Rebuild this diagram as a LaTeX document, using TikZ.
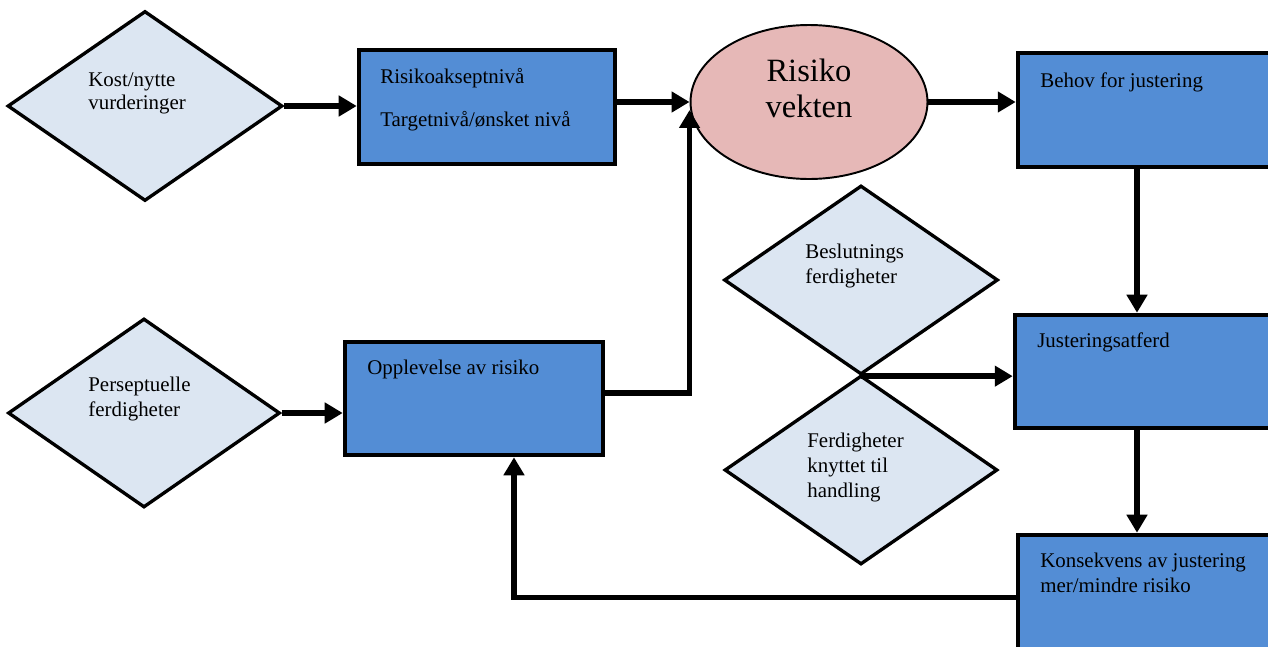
\documentclass[tikz,border=0pt]{standalone}
\usepackage{fontspec}
\setmainfont{Liberation Serif}
\usetikzlibrary{shapes.geometric,arrows.meta}

\definecolor{boksblaa}{RGB}{83,141,213}
\definecolor{ruterlys}{RGB}{220,230,242}
\definecolor{vektrosa}{RGB}{230,184,183}

\begin{document}
\begin{tikzpicture}[x=0.02cm, y=-0.02cm,
    boks/.style={draw, line width=2.6pt, fill=boksblaa, rectangle, inner sep=0pt},
    ruter/.style={draw, line width=1.9pt, fill=ruterlys, diamond, inner sep=0pt},
    tekst/.style={anchor=north west, inner sep=0pt, align=left,
        font=\fontsize{11.9}{14.2}\selectfont},
    pil/.style={line width=3.2pt, -{Triangle[length=0.36cm,width=0.4cm]}}]
    \clip (0,0) rectangle (1268,646);

    % diamonds
    \node[ruter, minimum width=5.5cm, minimum height=3.8cm] (kost) at (145,106) {};
    \node[ruter, minimum width=5.44cm, minimum height=3.78cm] (persep) at (144,413) {};
    \node[ruter, minimum width=5.48cm, minimum height=3.78cm] (beslut) at (861,280) {};
    \node[ruter, minimum width=5.46cm, minimum height=3.78cm] (ferdig) at (861,470) {};

    % boxes
    \node[boks, minimum width=5.12cm, minimum height=2.28cm] (aksept) at (487,107) {};
    \node[boks, minimum width=5.16cm, minimum height=2.26cm] (opplev) at (474,398.5) {};
    \node[boks, minimum width=5.44cm, minimum height=2.28cm] (behov) at (1154,110) {};
    \node[boks, minimum width=5.48cm, minimum height=2.26cm] (juster) at (1152,371.5) {};
    \node[boks, minimum width=5.44cm, minimum height=2.5cm] (konsek) at (1154,597.5) {};

    % the scale
    \node[draw, line width=1.1pt, fill=vektrosa, ellipse,
        minimum width=4.74cm, minimum height=3.08cm] (vekt) at (809,102) {};
    \node[align=center, inner sep=0pt, font=\fontsize{18.5}{20.5}\selectfont]
        (vekttekst) at (809,88) {Risiko\\vekten};

    % texts
    \node[tekst, font=\fontsize{11.9}{13.2}\selectfont] (kosttekst) at (88,72) {Kost/nytte\\vurderinger};
    \node[tekst] (persteks) at (88,377) {Perseptuelle\\ferdigheter};
    \node[tekst] (beslutteks) at (805,244) {Beslutnings\\ferdigheter};
    \node[tekst] (ferdigteks) at (807,433) {Ferdigheter\\knyttet til\\handling};
    \node[tekst] (akseptteks) at (380,68) {Risikoakseptnivå\\[10pt]Targetnivå/ønsket nivå};
    \node[tekst] (opplevteks) at (367,360) {Opplevelse av risiko};
    \node[tekst] (behovteks) at (1040,72) {Behov for justering};
    \node[tekst] (justerteks) at (1037,332) {Justeringsatferd};
    \node[tekst] (konsekteks) at (1040,553) {Konsekvens av justering\\mer/mindre risiko};

    % helper columns
    \coordinate (hoyre) at (1137,0);
    \coordinate (retur) at (514,0);

    % arrows
    \draw[pil] (kost.east) -- (aksept.west |- kost.east);
    \draw[pil] (aksept.east |- vekt.west) -- (vekt.west);
    \draw[pil, shorten >=0.16cm] (opplev.east |- 0,393) -| (vekt.west);
    \draw[pil] (vekt.east) -- (behov.west |- vekt.east);
    \draw[pil] (behov.south -| hoyre) -- (juster.north -| hoyre);
    \draw[pil] (beslut.south) -- (juster.west |- beslut.south);
    \draw[pil] (juster.south -| hoyre) -- (konsek.north -| hoyre);
    \draw[pil] (konsek.west) -| (opplev.south -| retur);
    \draw[pil] (persep.east) -- (opplev.west |- persep.east);
\end{tikzpicture}
\end{document}
